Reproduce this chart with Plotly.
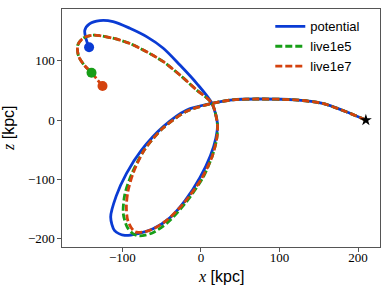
import plotly.graph_objects as go

# Orbit, from the start (star) to the final position (dot)
potential_x = [210, 185, 155, 120, 71, 40, 14, -18, -48, -76, -95, -108, -115, -110, -97,
               -80, -61, -40, -20, -1, 12, 19, 21, 14, -5.5, -26.8, -48, -69.3, -90.6,
               -112, -128.8, -142, -148, -146, -142.5]
potential_z = [0, 14, 28, 34, 35.5, 34, 28, 17, -11, -51, -90, -128, -163, -186, -194,
               -191, -183, -165, -135, -96, -60, -30, -6, 28, 61.9, 92.7, 121, 140.5, 154.6,
               165.8, 167.5, 162, 151, 135, 122.6]

live1e5_x = [210, 185, 155, 120, 71, 40, 14, -18, -48, -72, -88, -97, -99, -94, -86, -78,
             -62, -42, -20, 2, 14, 20, 21, 14, -5.5, -26.8, -48, -69.3, -90.6, -112, -137,
             -150, -157, -156, -149, -139.4]
live1e5_z = [0, 14, 28, 34, 35.5, 34, 28, 15, -13, -50, -90, -125, -157, -180, -192, -195,
             -190, -172, -140, -98, -62, -32, -8, 28, 50.6, 75.9, 98.3, 115, 129, 137.8, 143,
             138, 126, 108, 93, 79.8]

live1e7_x = [210, 185, 155, 120, 71, 40, 14, -18, -48, -72, -86, -93, -95, -93, -84,
             -66, -45, -22, 1, 14, 20, 21, 14, -5.5, -26.8, -48, -69.3, -90.6, -112, -137,
             -150, -157, -156, -149, -139.4, -132, -125.4]
live1e7_z = [0, 14, 28, 34, 35.5, 34, 28, 15, -13, -50, -88, -120, -146, -170, -188,
             -186, -170, -140, -98, -62, -32, -8, 28, 50.6, 75.9, 98.3, 115, 129, 137.8, 143,
             138, 126, 108, 93, 79.8, 68, 57.3]

series_names = ["potential", "live1e5", "live1e7"]
x_ticks = [-100, 0, 100, 200]
z_ticks = [-200, -100, 0, 100]

BLUE = "#0a3bd4"
GREEN = "#179e17"
RED = "#d4420e"
SERIF = "Liberation Serif, Times New Roman, DejaVu Serif, serif"
SANS = "Liberation Sans, Arial, sans-serif"

fig = go.Figure()
data = [(potential_x, potential_z, BLUE, "solid"),
        (live1e5_x, live1e5_z, GREEN, "7px,3px"),
        (live1e7_x, live1e7_z, RED, "7px,3px")]
for name, (xs, zs, col, dash) in zip(series_names, data):
    fig.add_trace(go.Scatter(x=xs, y=zs, mode="lines", name=name,
                             line=dict(color=col, width=2.8, dash=dash, shape="spline", smoothing=0.8)))
for name, (xs, zs, col, dash) in zip(series_names, data):
    fig.add_trace(go.Scatter(x=[xs[-1]], y=[zs[-1]], mode="markers", showlegend=False,
                             marker=dict(color=col, size=10, line=dict(width=0))))
fig.add_trace(go.Scatter(x=[potential_x[0]], y=[potential_z[0]], mode="markers", showlegend=False,
                         marker=dict(color="black", size=9, symbol="star", line=dict(width=0))))

axis_common = dict(showline=True, mirror=True, linecolor="#555555", linewidth=1.3,
                   ticks="outside", ticklen=3.5, tickwidth=1.1, tickcolor="#555555",
                   showgrid=False, zeroline=False, automargin=False,
                   tickfont=dict(family=SERIF, size=13, color="black"))
title_font = dict(family=SANS, size=16, color="black")
fig.update_layout(
    width=390, height=291,
    margin=dict(l=62, r=10, t=9, b=44, autoexpand=False),
    paper_bgcolor="white", plot_bgcolor="white",
    xaxis=dict(range=[-177, 228], tickvals=x_ticks, ticktext=["\u2212100", "0", "100", "200"],
               ticklabelstandoff=-5, **axis_common),
    yaxis=dict(range=[-213.6, 187], tickvals=z_ticks, ticktext=["\u2212200", "\u2212100", "0", "100"],
               **axis_common),
    legend=dict(x=0.655, y=0.99, xanchor="left", yanchor="top", bgcolor="rgba(255,255,255,0)",
                font=dict(family=SANS, size=13, color="black"), itemwidth=30,
                tracegroupgap=0),
    showlegend=True,
    annotations=[
        dict(text='<span style="font-family:Liberation Serif, serif"><i>x</i></span> [kpc]',
             xref="paper", yref="paper", x=0.5, y=-0.122, xanchor="center", yanchor="middle",
             showarrow=False, font=title_font),
        dict(text='<span style="font-family:Liberation Serif, serif"><i>z</i></span> [kpc]',
             xref="paper", yref="paper", x=-0.17, y=0.5, xanchor="center", yanchor="middle",
             textangle=-90, showarrow=False, font=title_font),
    ],
)
fig.write_html("out.html", config={"displayModeBar": False},
               post_script="document.body.style.margin='0px';")
